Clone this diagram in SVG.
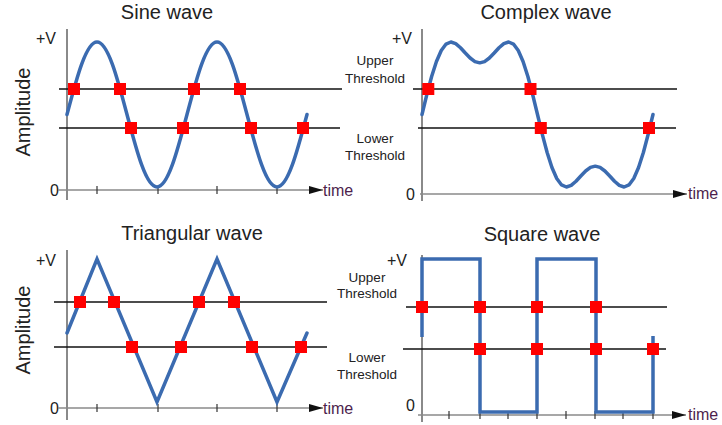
<svg xmlns="http://www.w3.org/2000/svg" width="722" height="425" viewBox="0 0 722 425">
<defs>
<style>
text{font-family:"Liberation Sans",Arial,sans-serif;fill:#222}
.title{font-size:20px;text-anchor:middle}
.amp{font-size:20px;text-anchor:middle}
.lbl{font-size:16px}
.th{font-size:13.5px;text-anchor:middle}
.time{font-size:16px;fill:#4d1f4d}
.axis{stroke:#8a8a8a;stroke-width:2;fill:none}
.haxis{stroke:#8a8a8a;stroke-width:1.5;fill:none}
.tick{stroke:#333;stroke-width:1.2}
.thr{stroke:#111;stroke-width:1.3;fill:none}
.wave{stroke:#3b6bb0;stroke-width:3.5;fill:none;stroke-linejoin:round;stroke-linecap:round}
.sq{fill:#ff0000}
</style>
<marker id="arr" viewBox="0 0 14 8" refX="14" refY="4" markerWidth="14" markerHeight="8" markerUnits="userSpaceOnUse" orient="auto">
<path d="M0,0 L14,4 L0,8 Z" fill="#111"/>
</marker>
<rect id="m" x="-6" y="-6" width="12" height="12" class="sq"/>
</defs>
<rect width="722" height="425" fill="#fff"/>

<g id="sine">
<text class="title" x="167" y="19">Sine wave</text>
<text class="amp" transform="translate(30,112) rotate(-90)">Amplitude</text>
<text class="lbl" x="36" y="44">+V</text>
<text class="lbl" x="50" y="196">0</text>
<text class="time" x="323" y="196">time</text>
<g id="sine-connectors">
<line class="axis" x1="67" y1="29" x2="67" y2="200"/>
<line class="haxis" x1="58" y1="190" x2="323" y2="190" marker-end="url(#arr)"/>
<line class="tick" x1="97" y1="186" x2="97" y2="194"/>
<line class="tick" x1="158" y1="186" x2="158" y2="194"/>
<line class="tick" x1="217" y1="186" x2="217" y2="194"/>
<line class="tick" x1="277" y1="186" x2="277" y2="194"/>
<line class="thr" x1="59" y1="89" x2="342" y2="89"/>
<line class="thr" x1="59" y1="128" x2="340" y2="128"/>
<path class="wave" d="M67,114.5 C76.78,77.4 86.140,42 97,42 C107.86,42 117.22,77.4 127,114.5 C136.78,151.6 146.14,187 157,187 C167.86,187 177.22,151.6 187,114.5 C196.78,77.4 206.14,42 217,42 C227.86,42 237.22,77.4 247,114.5 C256.78,151.6 266.14,187 277,187 C287.86,187 297.22,151.6 307,114.5"/>
</g>
<use href="#m" x="74" y="89"/>
<use href="#m" x="120" y="89"/>
<use href="#m" x="194" y="89"/>
<use href="#m" x="240" y="89"/>
<use href="#m" x="131" y="128"/>
<use href="#m" x="183" y="128"/>
<use href="#m" x="251" y="128"/>
<use href="#m" x="303" y="128"/>
</g>

<g id="complex">
<text class="title" x="546" y="19">Complex wave</text>
<text class="lbl" x="392" y="44">+V</text>
<text class="lbl" x="406" y="200">0</text>
<text class="time" x="688" y="199">time</text>
<text class="th" x="375" y="65">Upper</text>
<text class="th" x="375" y="83">Threshold</text>
<text class="th" x="375" y="143">Lower</text>
<text class="th" x="375" y="160">Threshold</text>
<g id="complex-connectors">
<line class="axis" x1="422" y1="29" x2="422" y2="201"/>
<line class="haxis" x1="420" y1="194" x2="687" y2="194" marker-end="url(#arr)"/>
<line class="thr" x1="413" y1="89" x2="677" y2="89"/>
<line class="thr" x1="418" y1="128" x2="676" y2="128"/>
<polyline class="wave" points="422,114.5 426.81,94.7 431.63,76.56 436.44,61.49 441.25,50.51 446.06,44.05 450.88,41.99 455.69,43.59 460.5,47.73 465.31,53.01 470.13,58.02 474.94,61.57 479.75,62.84 484.56,61.57 489.38,58.02 494.19,53.01 499,47.73 503.81,43.59 508.63,41.99 513.44,44.05 518.25,50.51 523.06,61.49 527.88,76.56 532.69,94.7 537.5,114.5 542.31,134.3 547.13,152.44 551.94,167.51 556.75,178.49 561.56,184.95 566.38,187.01 571.19,185.41 576,181.27 580.81,175.99 585.63,171 590.44,167.43 595.25,166.16 600.06,167.43 604.88,171 609.69,175.99 614.5,181.27 619.31,185.41 624.13,187.01 628.94,184.95 633.75,178.49 638.56,167.51 643.38,152.44 648.19,134.3 653,114.5"/>
</g>
<use href="#m" x="428.3" y="89"/>
<use href="#m" x="530.5" y="89"/>
<use href="#m" x="540.8" y="128"/>
<use href="#m" x="649" y="128"/>
</g>

<g id="triangular">
<text class="title" x="192" y="240">Triangular wave</text>
<text class="amp" transform="translate(30,330) rotate(-90)">Amplitude</text>
<text class="lbl" x="36" y="266">+V</text>
<text class="lbl" x="50" y="414">0</text>
<text class="time" x="323" y="414">time</text>
<g id="triangular-connectors">
<line class="axis" x1="67" y1="250" x2="67" y2="420"/>
<line class="haxis" x1="58" y1="408" x2="323" y2="408" marker-end="url(#arr)"/>
<line class="tick" x1="97" y1="404" x2="97" y2="412"/>
<line class="tick" x1="158" y1="404" x2="158" y2="412"/>
<line class="tick" x1="217" y1="404" x2="217" y2="412"/>
<line class="tick" x1="277" y1="404" x2="277" y2="412"/>
<line class="thr" x1="54" y1="302" x2="327" y2="302"/>
<line class="thr" x1="54" y1="347" x2="327" y2="347"/>
<polyline class="wave" style="stroke-linejoin:miter" points="67,333 97,259 157,402 217,259 277,402 307,333"/>
</g>
<use href="#m" x="80" y="302"/>
<use href="#m" x="114" y="302"/>
<use href="#m" x="199" y="302"/>
<use href="#m" x="234" y="302"/>
<use href="#m" x="132" y="347"/>
<use href="#m" x="181" y="347"/>
<use href="#m" x="252" y="347"/>
<use href="#m" x="301" y="347"/>
</g>

<g id="square">
<text class="title" x="542" y="241">Square wave</text>
<text class="lbl" x="387" y="266">+V</text>
<text class="lbl" x="406" y="411">0</text>
<text class="time" x="688" y="420">time</text>
<text class="th" x="367" y="282">Upper</text>
<text class="th" x="367" y="298">Threshold</text>
<text class="th" x="367" y="362">Lower</text>
<text class="th" x="367" y="379">Threshold</text>
<g id="square-connectors">
<line class="axis" x1="422" y1="255" x2="422" y2="422"/>
<line class="haxis" x1="418" y1="415" x2="686" y2="415" marker-end="url(#arr)"/>
<line class="tick" x1="449" y1="411" x2="449" y2="419"/>
<line class="tick" x1="480" y1="411" x2="480" y2="419"/>
<line class="tick" x1="508" y1="411" x2="508" y2="419"/>
<line class="tick" x1="537" y1="411" x2="537" y2="419"/>
<line class="tick" x1="566" y1="411" x2="566" y2="419"/>
<line class="tick" x1="595" y1="411" x2="595" y2="419"/>
<line class="tick" x1="623" y1="411" x2="623" y2="419"/>
<line class="tick" x1="653" y1="411" x2="653" y2="419"/>
<line class="thr" x1="406" y1="307" x2="667" y2="307"/>
<line class="thr" x1="403" y1="349" x2="666" y2="349"/>
<path class="wave" style="stroke-linejoin:miter;stroke-linecap:butt" d="M422,337 V259 H480 V412 H537 V259 H596 V412 H653 V336"/>
</g>
<use href="#m" x="422" y="307"/>
<use href="#m" x="480" y="307"/>
<use href="#m" x="537" y="307"/>
<use href="#m" x="596" y="307"/>
<use href="#m" x="480" y="349"/>
<use href="#m" x="537" y="349"/>
<use href="#m" x="596" y="349"/>
<use href="#m" x="653" y="349"/>
</g>
</svg>
